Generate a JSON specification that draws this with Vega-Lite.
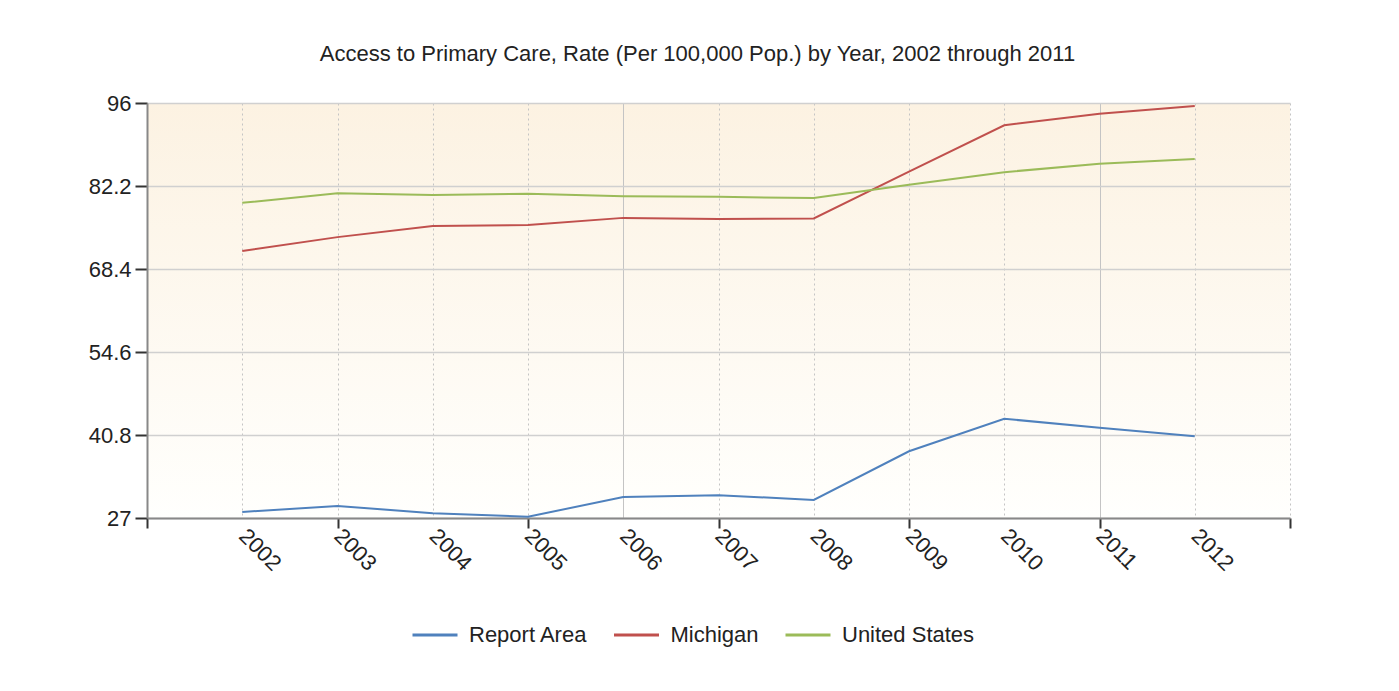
{
  "$schema": "https://vega.github.io/schema/vega-lite/v6.json",
  "autosize": {"type": "none"},
  "padding": {"left": 147, "top": 103, "right": 109, "bottom": 173},
  "width": 1143,
  "height": 415,
  "background": "white",
  "title": {
    "text": "Access to Primary Care, Rate (Per 100,000 Pop.) by Year, 2002 through 2011",
    "anchor": "middle",
    "frame": "group",
    "dx": -21,
    "baseline": "alphabetic",
    "offset": 9,
    "font": "Liberation Sans",
    "fontSize": 22,
    "fontWeight": "normal",
    "color": "#222222"
  },
  "data": {
    "values": [
      {"year": 2002, "series": "Report Area", "value": 28.0},
      {"year": 2003, "series": "Report Area", "value": 29.0},
      {"year": 2004, "series": "Report Area", "value": 27.8},
      {"year": 2005, "series": "Report Area", "value": 27.2},
      {"year": 2006, "series": "Report Area", "value": 30.5},
      {"year": 2007, "series": "Report Area", "value": 30.8},
      {"year": 2008, "series": "Report Area", "value": 30.0},
      {"year": 2009, "series": "Report Area", "value": 38.1},
      {"year": 2010, "series": "Report Area", "value": 43.5},
      {"year": 2011, "series": "Report Area", "value": 42.0},
      {"year": 2012, "series": "Report Area", "value": 40.6},
      {"year": 2002, "series": "Michigan", "value": 71.4},
      {"year": 2003, "series": "Michigan", "value": 73.7},
      {"year": 2004, "series": "Michigan", "value": 75.55},
      {"year": 2005, "series": "Michigan", "value": 75.7},
      {"year": 2006, "series": "Michigan", "value": 76.9},
      {"year": 2007, "series": "Michigan", "value": 76.7},
      {"year": 2008, "series": "Michigan", "value": 76.8},
      {"year": 2009, "series": "Michigan", "value": 84.6},
      {"year": 2010, "series": "Michigan", "value": 92.3},
      {"year": 2011, "series": "Michigan", "value": 94.2},
      {"year": 2012, "series": "Michigan", "value": 95.5},
      {"year": 2002, "series": "United States", "value": 79.4},
      {"year": 2003, "series": "United States", "value": 81.0},
      {"year": 2004, "series": "United States", "value": 80.7},
      {"year": 2005, "series": "United States", "value": 80.9},
      {"year": 2006, "series": "United States", "value": 80.5},
      {"year": 2007, "series": "United States", "value": 80.4},
      {"year": 2008, "series": "United States", "value": 80.2},
      {"year": 2009, "series": "United States", "value": 82.4},
      {"year": 2010, "series": "United States", "value": 84.5},
      {"year": 2011, "series": "United States", "value": 85.9},
      {"year": 2012, "series": "United States", "value": 86.7}
    ]
  },
  "mark": {"type": "line", "strokeWidth": 2, "interpolate": "linear"},
  "encoding": {
    "x": {
      "field": "year",
      "type": "quantitative",
      "scale": {"domain": [2001, 2013], "nice": false, "zero": false},
      "axis": {
        "title": null,
        "values": [2001, 2002, 2003, 2004, 2005, 2006, 2007, 2008, 2009, 2010, 2011, 2012, 2013],
        "format": "d",
        "labelExpr": "datum.value >= 2002 && datum.value <= 2012 ? datum.label : ''",
        "labelAngle": 45,
        "labelAlign": "left",
        "labelBaseline": "middle",
        "labelPadding": 4,
        "labelFont": "Liberation Sans",
        "labelFontSize": 22,
        "labelColor": "#222222",
        "labelOverlap": false,
        "labelBound": false,
        "labelFlush": false,
        "grid": true,
        "gridColor": "#c4c4c4",
        "gridWidth": 1,
        "gridDash": {"condition": {"test": "datum.value == 2006 || datum.value == 2011", "value": []}, "value": [2, 3]},
        "ticks": true,
        "tickSize": 10,
        "tickWidth": 2,
        "tickColor": "#333333",
        "tickOpacity": {"condition": {"test": "datum.value % 2 == 1", "value": 1}, "value": 0},
        "domain": true,
        "domainColor": "#888888",
        "domainWidth": 2
      }
    },
    "y": {
      "field": "value",
      "type": "quantitative",
      "scale": {"domain": [27, 96], "nice": false, "zero": false},
      "axis": {
        "title": null,
        "values": [27, 40.8, 54.6, 68.4, 82.2, 96],
        "format": ".1~f",
        "labelFont": "Liberation Sans",
        "labelFontSize": 22,
        "labelColor": "#222222",
        "labelPadding": 4,
        "grid": true,
        "gridColor": "#d0d0d0",
        "gridWidth": 1.5,
        "tickSize": 12,
        "tickWidth": 2,
        "tickColor": "#333333",
        "domainColor": "#888888",
        "domainWidth": 2
      }
    },
    "color": {
      "field": "series",
      "type": "nominal",
      "scale": {
        "domain": ["Report Area", "Michigan", "United States"],
        "range": ["#4f81bd", "#c0504d", "#9bbb59"]
      },
      "legend": {
        "title": null,
        "orient": "none",
        "direction": "horizontal",
        "legendX": 264,
        "legendY": 508,
        "padding": 0,
        "symbolType": "stroke",
        "symbolSize": 2025,
        "symbolStrokeWidth": 3,
        "labelFont": "Liberation Sans",
        "labelFontSize": 22,
        "labelColor": "#222222",
        "labelOffset": 10,
        "columnPadding": 19.5
      }
    }
  },
  "config": {
    "view": {
      "stroke": null,
      "fill": {
        "gradient": "linear",
        "x1": 0, "y1": 0, "x2": 0, "y2": 1,
        "stops": [
          {"offset": 0, "color": "#fcf2e2"},
          {"offset": 1, "color": "#fffffd"}
        ]
      }
    }
  }
}
